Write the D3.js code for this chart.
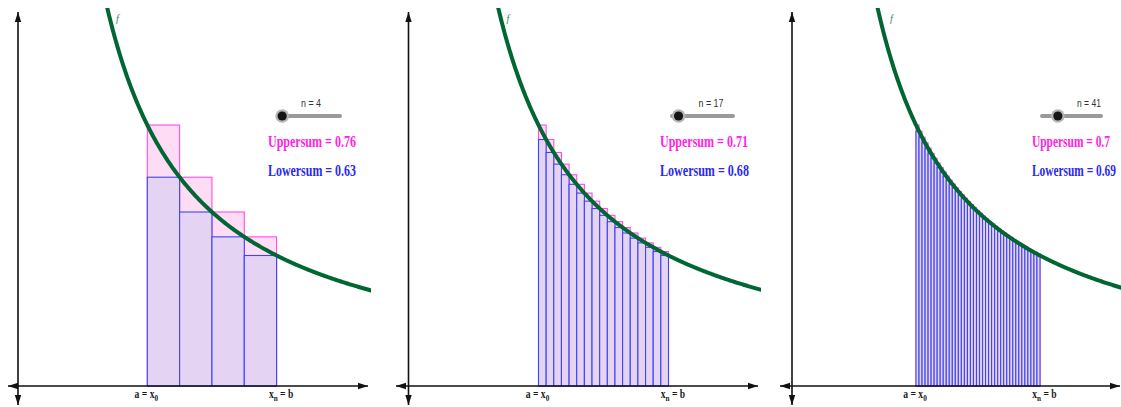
<!DOCTYPE html>
<html>
<head>
<meta charset="utf-8">
<script src="https://cdn.jsdelivr.net/npm/d3@7"></script>
<style>
  html, body { margin: 0; padding: 0; background: #fff; }
  svg { display: block; }
</style>
</head>
<body>
<svg id="chart" width="1121" height="407"></svg>
<script>
// f(x) = 1/x on [a, b] = [1, 2], upper and lower Riemann sums for three values of n
const nValues = [4, 17, 41];
const upperSums = [0.76, 0.71, 0.7];
const lowerSums = [0.63, 0.68, 0.69];
const intervalA = 1;
const intervalB = 2;
const sliderDomain = [1, 150];
const labelA = ["a = x", "0"];
const labelB = ["x", "n", " = b"];
const f = x => 1 / x;

// per-panel frame: origin / unit width in px, axis extents, widget positions
const panels = [
  { ox: 18,  sx: 129.3, axisL: 8,   axisR: 368,  right: 371,  left: 0,   slider: [281, 340],   nX: 311,  sumX: 268,  sumW: [88, 88], nW: 20 },
  { ox: 408.5, sx: 130, axisL: 396, axisR: 758,  right: 761,  left: 380, slider: [672, 733],   nX: 711,  sumX: 660,  sumW: [88, 89], nW: 25 },
  { ox: 792, sx: 124,   axisL: 780, axisR: 1120, right: 1121, left: 762, slider: [1042, 1101], nX: 1089, sumX: 1032, sumW: [78, 84], nW: 24 }
];

const yAxisPos = 386, yUnitPos = 125, yTop = 12, yBottom = 405, curveTop = 8;

const svg = d3.select("#chart");
const defs = svg.append("defs");

const green = "#006633";
const pinkFill = "#ffdcf5", pinkStroke = "#ff4fdc";
const lavFill = "#e5d3f4", blueStroke = "#3f46ee";

function arrowHead(g, x, y, dir) {
  const L = 10, W = 3.2;
  let pts;
  if (dir === "up") pts = [[x, y], [x - W, y + L], [x + W, y + L]];
  if (dir === "down") pts = [[x, y], [x - W, y - L], [x + W, y - L]];
  if (dir === "left") pts = [[x, y], [x + L, y - W], [x + L, y + W]];
  if (dir === "right") pts = [[x, y], [x - L, y - W], [x - L, y + W]];
  g.append("path").attr("d", "M" + pts.map(p => p.join(",")).join("L") + "Z").attr("fill", "#111");
}

// narrow a text horizontally so that it spans the given width
function fitText(t, x, y, width, anchor) {
  const len = t.node().getComputedTextLength();
  const k = width / len;
  const dx = anchor === "middle" ? -width / 2 : 0;
  t.attr("text-anchor", "start")
    .attr("transform", `translate(${x + dx},${y}) scale(${k},1)`);
  return t;
}

panels.forEach((p, i) => {
  const n = nValues[i];
  const x = d3.scaleLinear().domain([0, 1]).range([p.ox, p.ox + p.sx]);
  const y = d3.scaleLinear().domain([0, 1]).range([yAxisPos, yUnitPos]);
  const g = svg.append("g");

  defs.append("clipPath").attr("id", "clip" + i)
    .append("rect").attr("x", p.left).attr("y", curveTop)
    .attr("width", p.right - p.left).attr("height", yBottom - curveTop);

  // partition of [a, b]
  const dx = (intervalB - intervalA) / n;
  const parts = d3.range(n).map(k => {
    const x0 = intervalA + k * dx, x1 = x0 + dx;
    return { x0, x1, hi: Math.max(f(x0), f(x1)), lo: Math.min(f(x0), f(x1)) };
  });

  // upper sum rectangles
  g.append("g").selectAll("rect").data(parts).join("rect")
    .attr("x", d => x(d.x0)).attr("width", d => x(d.x1) - x(d.x0))
    .attr("y", d => y(d.hi)).attr("height", d => y(0) - y(d.hi))
    .attr("fill", pinkFill).attr("stroke", pinkStroke).attr("stroke-width", 1.1);

  // lower sum rectangles
  g.append("g").selectAll("rect").data(parts).join("rect")
    .attr("x", d => x(d.x0)).attr("width", d => x(d.x1) - x(d.x0))
    .attr("y", d => y(d.lo)).attr("height", d => y(0) - y(d.lo))
    .attr("fill", lavFill).attr("stroke", blueStroke).attr("stroke-width", 1.1);

  // axes
  g.append("line").attr("x1", p.axisL).attr("x2", p.axisR)
    .attr("y1", y(0)).attr("y2", y(0)).attr("stroke", "#111").attr("stroke-width", 1.6);
  g.append("line").attr("x1", x(0)).attr("x2", x(0))
    .attr("y1", yTop).attr("y2", yBottom).attr("stroke", "#111").attr("stroke-width", 1.6);
  arrowHead(g, p.axisL, y(0), "left");
  arrowHead(g, p.axisR, y(0), "right");
  arrowHead(g, x(0), yTop, "up");
  arrowHead(g, x(0), yBottom, "down");

  // graph of f
  const xMin = 1 / y.invert(curveTop - 4);
  const xMax = x.invert(p.right + 2);
  const pts = d3.range(0, 301).map(k => xMin + (xMax - xMin) * k / 300);
  g.append("path")
    .attr("clip-path", "url(#clip" + i + ")")
    .attr("d", d3.line().x(d => x(d)).y(d => y(f(d)))(pts))
    .attr("fill", "none").attr("stroke", green).attr("stroke-width", 4);

  g.append("text").attr("x", x(0) + 98).attr("y", 22)
    .attr("font-family", "Liberation Serif").attr("font-style", "italic")
    .attr("font-size", 10).attr("fill", "#2f8a55").text("f");

  // slider for n
  const s = d3.scaleLinear().domain(sliderDomain).range(p.slider);
  g.append("line").attr("x1", p.slider[0]).attr("x2", p.slider[1])
    .attr("y1", 116).attr("y2", 116)
    .attr("stroke", "#9a9a9a").attr("stroke-width", 4).attr("stroke-linecap", "round");
  g.append("circle").attr("cx", s(n)).attr("cy", 116).attr("r", 6.8).attr("fill", "#b5b5b5");
  g.append("circle").attr("cx", s(n)).attr("cy", 116).attr("r", 4.6).attr("fill", "#151515");
  fitText(g.append("text")
    .attr("font-family", "Liberation Sans").attr("font-size", 11).attr("fill", "#333")
    .text("n = " + n), p.nX, 107, p.nW, "middle");

  // sums
  fitText(g.append("text")
    .attr("font-family", "Liberation Serif").attr("font-weight", "bold")
    .attr("font-size", 16).attr("fill", "#ff22e6")
    .text("Uppersum = " + upperSums[i]), p.sumX, 147, p.sumW[0]);
  fitText(g.append("text")
    .attr("font-family", "Liberation Serif").attr("font-weight", "bold")
    .attr("font-size", 16).attr("fill", "#2a2af0")
    .text("Lowersum = " + lowerSums[i]), p.sumX, 176, p.sumW[1]);

  // endpoint labels under the axis
  const ta = g.append("text")
    .attr("transform", `translate(${x(intervalA) - 1},398) scale(0.8,1)`)
    .attr("text-anchor", "middle")
    .attr("font-family", "Liberation Serif").attr("font-weight", "bold")
    .attr("font-size", 12).attr("fill", "#1a1a1a");
  ta.append("tspan").text(labelA[0]);
  ta.append("tspan").attr("font-size", 9).attr("dy", 3).text(labelA[1]);

  const tb = g.append("text")
    .attr("transform", `translate(${x(intervalB) + 4.5},398) scale(0.8,1)`)
    .attr("text-anchor", "middle")
    .attr("font-family", "Liberation Serif").attr("font-weight", "bold")
    .attr("font-size", 12).attr("fill", "#1a1a1a");
  tb.append("tspan").text(labelB[0]);
  tb.append("tspan").attr("font-size", 9).attr("dy", 3).text(labelB[1]);
  tb.append("tspan").attr("dy", -3).text(labelB[2]);
});
</script>
</body>
</html>
